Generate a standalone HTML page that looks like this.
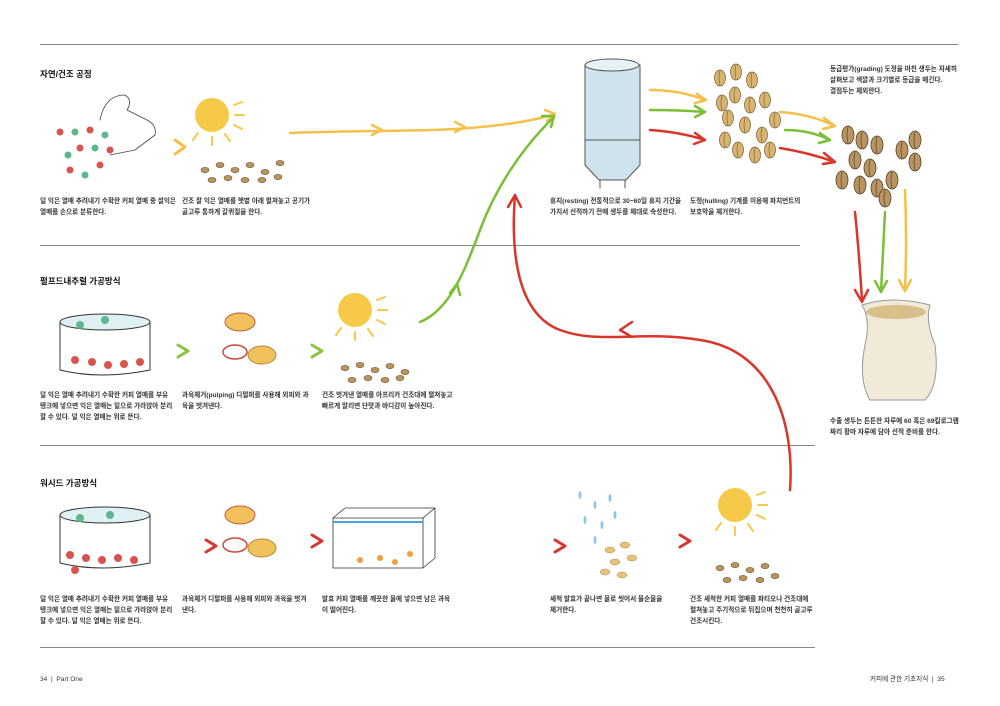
<!DOCTYPE html>
<html><head><meta charset="utf-8"><style>
body{margin:0;width:1000px;height:706px;background:#fff;position:relative;overflow:hidden;font-family:"Liberation Sans","Noto Sans CJK KR",sans-serif;color:#222}
.t{position:absolute;font-size:6.6px;line-height:11px;font-weight:bold;color:#333;white-space:nowrap}
.h{position:absolute;font-size:8.5px;font-weight:bold;color:#111}
.l{position:absolute;height:1px;background:#888}
svg{position:absolute;left:0;top:0}
</style></head><body>
<div class="l" style="left:40px;top:44px;width:918px"></div>
<div class="l" style="left:40px;top:245px;width:760px"></div>
<div class="l" style="left:40px;top:445px;width:775px"></div>
<div class="l" style="left:40px;top:647px;width:775px"></div>

<div class="h" style="left:40px;top:68px">자연/건조 공정</div>
<div class="h" style="left:40px;top:275px">펄프드내추럴 가공방식</div>
<div class="h" style="left:40px;top:477px">워시드 가공방식</div>

<div class="t" style="left:40px;top:196px">덜 익은 열매 추려내기 수확한 커피 열매 중 설익은<br>열매를 손으로 분류한다.</div>
<div class="t" style="left:182px;top:196px">건조 잘 익은 열매를 햇볕 아래 펼쳐놓고 공기가<br>골고루 통하게 갈퀴질을 한다.</div>
<div class="t" style="left:40px;top:390px">덜 익은 열매 추려내기 수확한 커피 열매를 부유<br>탱크에 넣으면 익은 열매는 밑으로 가라앉아 분리<br>할 수 있다. 덜 익은 열매는 위로 뜬다.</div>
<div class="t" style="left:182px;top:390px">과육제거(pulping) 디펄퍼를 사용해 외피와 과<br>육을 벗겨낸다.</div>
<div class="t" style="left:322px;top:390px">건조 벗겨낸 열매를 아프리카 건조대에 펼쳐놓고<br>빠르게 말리면 단맛과 바디감이 높아진다.</div>
<div class="t" style="left:40px;top:594px">덜 익은 열매 추려내기 수확한 커피 열매를 부유<br>탱크에 넣으면 익은 열매는 밑으로 가라앉아 분리<br>할 수 있다. 덜 익은 열매는 위로 뜬다.</div>
<div class="t" style="left:182px;top:594px">과육제거 디펄퍼를 사용해 외피와 과육을 벗겨<br>낸다.</div>
<div class="t" style="left:322px;top:594px">발효 커피 열매를 깨끗한 물에 넣으면 남은 과육<br>이 떨어진다.</div>
<div class="t" style="left:550px;top:196px">휴지(resting) 전통적으로 30~60일 휴지 기간을<br>가지서 선적하기 전에 생두를 제대로 숙성한다.</div>
<div class="t" style="left:690px;top:196px">도정(hulling) 기계를 이용해 파치먼트의<br>보호막을 제거한다.</div>
<div class="t" style="left:550px;top:594px">세척 발효가 끝나면 물로 씻어서 불순물을<br>제거한다.</div>
<div class="t" style="left:690px;top:594px">건조 세척한 커피 열매를 파티오나 건조대에<br>펼쳐놓고 주기적으로 뒤집으며 천천히 골고루<br>건조시킨다.</div>
<div class="t" style="left:830px;top:64px">등급평가(grading) 도정을 마친 생두는 자세히<br>살펴보고 색깔과 크기별로 등급을 매긴다.<br>결점두는 제외한다.</div>
<div class="t" style="left:830px;top:416px">수출 생두는 튼튼한 자루에 60 혹은 69킬로그램<br>짜리 황마 자루에 담아 선적 준비를 한다.</div>
<div class="t" style="left:40px;top:674px;font-weight:normal">34 &nbsp;|&nbsp; Part One</div>
<div class="t" style="left:870px;top:674px;font-weight:normal">커피에 관한 기초지식 &nbsp;|&nbsp; 35</div>

<svg width="1000" height="706" viewBox="0 0 1000 706" fill="none" stroke-linecap="round" stroke-linejoin="round">
<defs>
<g id="sun"><circle r="17" fill="#f7c948"/><g stroke="#f7c948" stroke-width="2"><path d="M22,-10 l8,-3 M23,0 l9,0 M22,10 l8,4 M13,19 l5,7 M0,22 l0,8 M-14,18 l-5,7"/></g></g>
<g id="bn"><ellipse rx="4" ry="2.6" fill="#b8955a" stroke="#6b4e2a" stroke-width=".6"/></g>
<g id="gb"><ellipse rx="6" ry="9" fill="#b89563" stroke="#5c4022" stroke-width=".8"/><path d="M0,-8 q-2,8 0,16" stroke="#5c4022" stroke-width=".7"/></g>
<g id="hb"><ellipse rx="5.5" ry="8" fill="#d8b473" stroke="#7a5a2a" stroke-width=".7"/><path d="M0,-7 q-2,7 0,14" stroke="#7a5a2a" stroke-width=".6"/></g>
<g id="tank"><path d="M0,0 v48 q40,10 90,0 v-48" stroke="#333" stroke-width="1"/><ellipse cx="45" cy="0" rx="45" ry="8" fill="#dff0f3" stroke="#333" stroke-width="1"/></g>
<g id="pulp"><ellipse cx="0" cy="0" rx="15" ry="9" fill="#f3c15b" stroke="#c25a3a"/><ellipse cx="-5" cy="30" rx="12" ry="7" fill="#fff" stroke="#c94b3a" stroke-width="1.5"/><ellipse cx="22" cy="33" rx="14" ry="9" fill="#f0c35a" stroke="#b38a3a"/></g>
</defs>

<g>
<g fill="#d9534f"><circle cx="60" cy="132" r="3.5"/><circle cx="90" cy="130" r="3.5"/><circle cx="80" cy="148" r="3.5"/><circle cx="100" cy="165" r="3.5"/><circle cx="70" cy="170" r="3.5"/><circle cx="110" cy="150" r="3.5"/></g>
<g fill="#5cb88a"><circle cx="75" cy="132" r="3.5"/><circle cx="68" cy="155" r="3.5"/><circle cx="95" cy="148" r="3.5"/><circle cx="85" cy="175" r="3.5"/><circle cx="105" cy="135" r="3.5"/></g>
<path d="M100,120 q5,-25 25,-25 q8,5 2,15 l20,10 q10,5 8,15 l-20,15 l-25,5" stroke="#444" stroke-width=".8"/>
<path d="M175,140 l10,7 l-10,7" stroke="#f5c04a" stroke-width="3"/>
<use href="#sun" x="212" y="115"/>
<g><use href="#bn" x="205" y="170"/><use href="#bn" x="220" y="165"/><use href="#bn" x="235" y="170"/><use href="#bn" x="250" y="165"/><use href="#bn" x="265" y="172"/><use href="#bn" x="280" y="163"/><use href="#bn" x="212" y="180"/><use href="#bn" x="228" y="178"/><use href="#bn" x="245" y="180"/><use href="#bn" x="262" y="180"/><use href="#bn" x="278" y="177"/></g>
</g>

<use href="#tank" x="60" y="322"/>
<g fill="#d9534f"><circle cx="75" cy="360" r="4"/><circle cx="92" cy="362" r="4"/><circle cx="108" cy="365" r="4"/><circle cx="124" cy="364" r="4"/><circle cx="140" cy="362" r="4"/></g>
<g fill="#5cb88a"><circle cx="80" cy="325" r="4"/><circle cx="105" cy="320" r="4"/></g>
<path d="M178,345 l10,6 l-10,6" stroke="#8cc43e" stroke-width="3"/>
<use href="#pulp" x="240" y="322"/>
<path d="M312,345 l10,6 l-10,6" stroke="#8cc43e" stroke-width="3"/>
<use href="#sun" x="355" y="310"/>
<g><use href="#bn" x="345" y="368"/><use href="#bn" x="360" y="365"/><use href="#bn" x="375" y="370"/><use href="#bn" x="390" y="366"/><use href="#bn" x="405" y="372"/><use href="#bn" x="352" y="380"/><use href="#bn" x="368" y="378"/><use href="#bn" x="385" y="380"/><use href="#bn" x="400" y="378"/></g>

<use href="#tank" x="60" y="515"/>
<g fill="#d9534f"><circle cx="70" cy="555" r="4"/><circle cx="86" cy="558" r="4"/><circle cx="102" cy="560" r="4"/><circle cx="118" cy="558" r="4"/><circle cx="134" cy="560" r="4"/><circle cx="75" cy="570" r="4"/></g>
<g fill="#5cb88a"><circle cx="80" cy="518" r="4"/><circle cx="110" cy="515" r="4"/></g>
<path d="M206,540 l10,6 l-10,6" stroke="#d9352a" stroke-width="3"/>
<use href="#pulp" x="240" y="515"/>
<path d="M312,535 l10,6 l-10,6" stroke="#d9352a" stroke-width="3"/>
<path d="M333,518 h90 v50 h-90 z M333,518 l12,-10 h90 l-12,10 M435,508 v50 l-12,10" stroke="#333" stroke-width=".8"/>
<path d="M334,522 h88" stroke="#4aa3d8" stroke-width="2"/>
<g fill="#f0a040"><circle cx="360" cy="560" r="3"/><circle cx="380" cy="558" r="3"/><circle cx="395" cy="562" r="3"/><circle cx="410" cy="554" r="3"/></g>
<path d="M555,540 l10,6 l-10,6" stroke="#d9352a" stroke-width="3"/>
<g fill="#8fc6e8"><ellipse cx="580" cy="495" rx="1.5" ry="4"/><ellipse cx="595" cy="505" rx="1.5" ry="4"/><ellipse cx="610" cy="498" rx="1.5" ry="4"/><ellipse cx="585" cy="520" rx="1.5" ry="4"/><ellipse cx="602" cy="525" rx="1.5" ry="4"/><ellipse cx="595" cy="540" rx="1.5" ry="4"/><ellipse cx="615" cy="515" rx="1.5" ry="4"/></g>
<g fill="#e7c27a" stroke="#a58a4a" stroke-width=".5"><ellipse cx="610" cy="550" rx="5" ry="3"/><ellipse cx="625" cy="545" rx="5" ry="3"/><ellipse cx="615" cy="562" rx="5" ry="3"/><ellipse cx="632" cy="558" rx="5" ry="3"/><ellipse cx="605" cy="572" rx="5" ry="3"/><ellipse cx="622" cy="575" rx="5" ry="3"/></g>
<path d="M680,535 l10,6 l-10,6" stroke="#d9352a" stroke-width="3"/>
<use href="#sun" x="735" y="505"/>
<g><use href="#bn" x="720" y="568"/><use href="#bn" x="735" y="565"/><use href="#bn" x="750" y="570"/><use href="#bn" x="765" y="566"/><use href="#bn" x="727" y="580"/><use href="#bn" x="743" y="578"/><use href="#bn" x="760" y="580"/><use href="#bn" x="775" y="576"/></g>

<path d="M290,133 C360,130 420,132 470,128 S540,118 553,115" stroke="#f5c04a" stroke-width="2.5"/>
<path d="M372,125 l10,5 l-10,5 M455,122 l10,5 l-10,5" stroke="#f5c04a" stroke-width="2.5"/>
<path d="M545,110 l10,4 l-8,7" stroke="#f5c04a" stroke-width="2.5"/>
<path d="M420,322 C450,310 465,270 480,230 S520,150 553,118" stroke="#7bbf36" stroke-width="2.5"/>
<path d="M450,293 l7,-9 l3,11" stroke="#7bbf36" stroke-width="2.5"/>
<path d="M542,116 l12,0 l-3,11" stroke="#7bbf36" stroke-width="2.5"/>
<path d="M790,490 C795,420 770,350 700,340 C640,330 600,345 560,330 C520,315 510,260 515,195" stroke="#d9352a" stroke-width="2.5"/>
<path d="M508,207 l7,-12 l6,12 M632,322 l-12,8 l12,7" stroke="#d9352a" stroke-width="2.5"/>

<path d="M585,65 h55 v100 l-14,15 h-27 l-14,-15 z" fill="#cfe3ec" stroke="#555" stroke-width="1"/>
<ellipse cx="612" cy="65" rx="27" ry="6" fill="#e6f2f6" stroke="#555"/>
<path d="M585,140 h55 M600,180 v8 M625,180 v8" stroke="#555"/>
<path d="M650,90 q30,0 55,10 M697,94 l9,6 l-11,3" stroke="#f5c04a" stroke-width="2.5"/>
<path d="M650,110 q30,0 55,2 M695,106 l10,6 l-10,5" stroke="#7bbf36" stroke-width="2.5"/>
<path d="M650,130 q30,2 55,10 M695,133 l10,7 l-11,4" stroke="#d9352a" stroke-width="2.5"/>
<g><use href="#hb" x="720" y="78"/><use href="#hb" x="736" y="72"/><use href="#hb" x="752" y="80"/><use href="#hb" x="735" y="95"/><use href="#hb" x="765" y="100"/><use href="#hb" x="722" y="103"/><use href="#hb" x="750" y="105"/><use href="#hb" x="728" y="118"/><use href="#hb" x="745" y="125"/><use href="#hb" x="762" y="135"/><use href="#hb" x="738" y="150"/><use href="#hb" x="775" y="120"/><use href="#hb" x="755" y="155"/><use href="#hb" x="770" y="150"/><use href="#hb" x="725" y="140"/></g>
<path d="M780,112 q30,2 55,14 M824,118 l11,8 l-12,3" stroke="#f5c04a" stroke-width="2.5"/>
<path d="M785,130 q25,0 45,10 M820,133 l10,7 l-11,3" stroke="#7bbf36" stroke-width="2.5"/>
<path d="M780,148 q30,5 55,14 M824,153 l11,9 l-12,2" stroke="#d9352a" stroke-width="2.5"/>
<g><use href="#gb" x="848" y="135"/><use href="#gb" x="862" y="140"/><use href="#gb" x="877" y="145"/><use href="#gb" x="915" y="140"/><use href="#gb" x="855" y="160"/><use href="#gb" x="870" y="168"/><use href="#gb" x="915" y="162"/><use href="#gb" x="860" y="185"/><use href="#gb" x="877" y="188"/><use href="#gb" x="892" y="180"/><use href="#gb" x="885" y="198"/><use href="#gb" x="842" y="180"/><use href="#gb" x="902" y="150"/></g>
<path d="M855,212 q4,40 7,88 M855,290 l7,12 l6,-12" stroke="#d9352a" stroke-width="2.5"/>
<path d="M885,212 q-2,40 -4,80 M875,281 l6,11 l6,-11" stroke="#7bbf36" stroke-width="2.5"/>
<path d="M905,190 q2,50 0,100 M899,280 l6,11 l6,-11" stroke="#f5c04a" stroke-width="2.5"/>
<path d="M862,305 q30,-10 68,0 q-5,15 5,40 q5,40 -10,55 h-55 q-12,-20 -5,-55 q6,-25 -3,-40 z" fill="#f0ead8" stroke="#999" stroke-width="1"/>
<ellipse cx="896" cy="312" rx="30" ry="7" fill="#d8c08a"/>
</svg>
</body></html>
